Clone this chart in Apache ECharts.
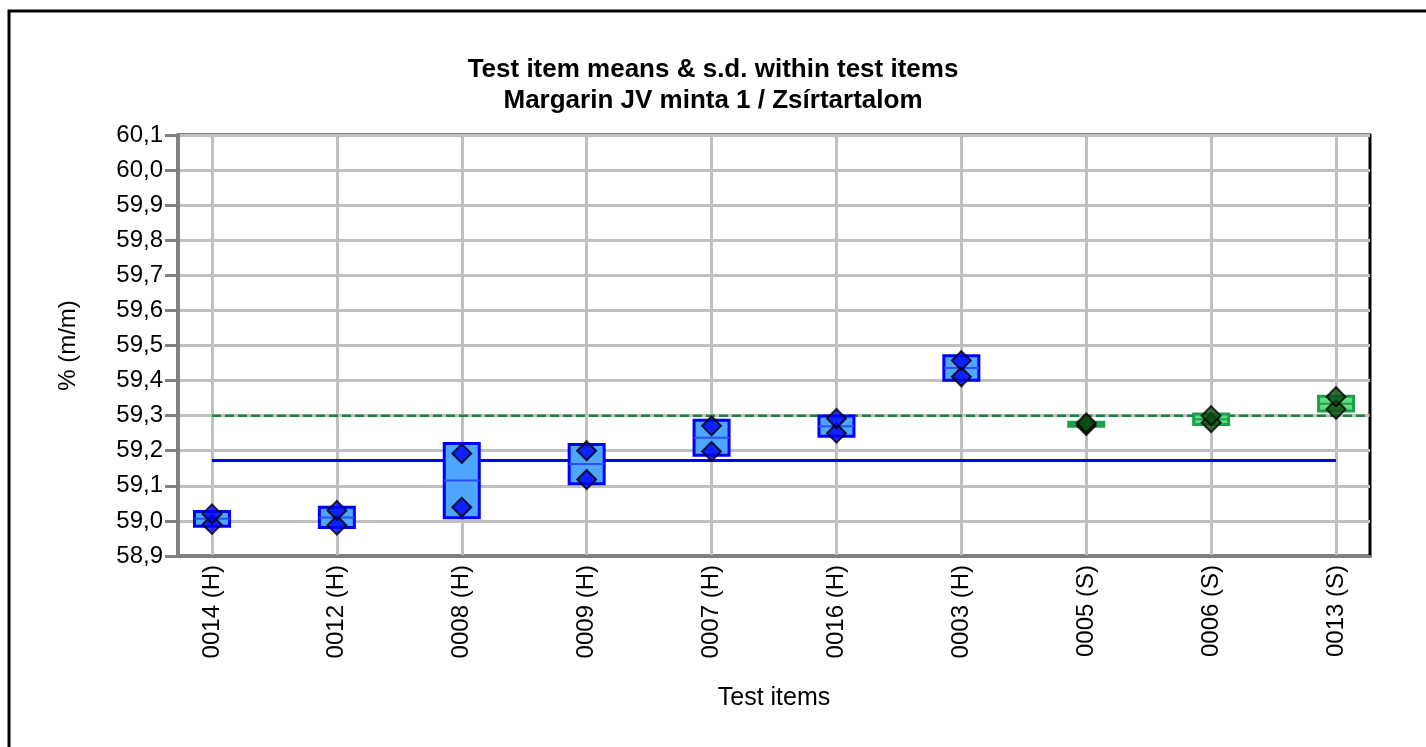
<!DOCTYPE html>
<html>
<head>
<meta charset="utf-8">
<script src="https://cdn.jsdelivr.net/npm/echarts@6/dist/echarts.min.js"></script>
<style>
html,body{margin:0;padding:0;background:#fff;}
#chart{width:1426px;height:747px;}
</style>
</head>
<body>
<div id="chart"></div>
<script>
// ---- data ----
const categories = ['0014 (H)','0012 (H)','0008 (H)','0009 (H)','0007 (H)','0016 (H)','0003 (H)','0005 (S)','0006 (S)','0013 (S)'];
const itemTypes  = ['H','H','H','H','H','H','H','S','S','S'];
const rep1  = [59.020, 59.030, 59.192, 59.200, 59.271, 59.292, 59.457, 59.279, 59.300, 59.354];
const rep2  = [58.990, 58.988, 59.039, 59.118, 59.198, 59.250, 59.411, 59.272, 59.280, 59.318];
const means = [59.006, 59.010, 59.115, 59.162, 59.237, 59.270, 59.436, 59.2755, 59.290, 59.334];
const sds   = [0.021, 0.029, 0.106, 0.056, 0.050, 0.029, 0.035, 0.006, 0.015, 0.021];
const overallMean = 59.172;   // solid blue line
const assignedValue = 59.30;  // dashed green line
const yMin = 58.9, yMax = 60.1, yStep = 0.1;

const positions = categories.map((c, i) => i + 1);
const xMin = 0.728, xMax = 10.272;

const boxData = positions.map((p, i) => [p, means[i], sds[i]]);
const rep1Data = positions.map((p, i) => [p, rep1[i]]);
const rep2Data = positions.map((p, i) => [p, rep2[i]]);

const FONT = '"Liberation Sans", Arial, sans-serif';
const colors = {
  H: { fill: '#4da6ff', stroke: '#0000ff', mid: '#2f4dff', dot: '#0000ff' },
  S: { fill: '#5fdc7e', stroke: '#1f9e4c', mid: '#1f9e4c', dot: '#0b4a12' }
};

const chart = echarts.init(document.getElementById('chart'), null, { renderer: 'canvas' });

const option = {
  backgroundColor: '#ffffff',
  animation: false,
  title: {
    text: 'Test item means & s.d. within test items\nMargarin JV minta 1 / Zsírtartalom',
    left: 'center',
    top: 54,
    padding: 0,
    textStyle: { fontFamily: FONT, fontSize: 26, fontWeight: 'bold', color: '#000', lineHeight: 31 }
  },
  graphic: [{
    type: 'rect', silent: true, z: -10,
    shape: { x: 9, y: 11, width: 1500, height: 800 },
    style: { fill: null, stroke: '#000', lineWidth: 3 }
  }],
  grid: {
    left: 178, top: 135, right: 56, bottom: 191,
    show: true, borderColor: '#000', borderWidth: 3, backgroundColor: 'transparent'
  },
  xAxis: {
    type: 'value',
    min: xMin, max: xMax,
    name: 'Test items',
    nameLocation: 'middle',
    nameGap: 130,
    nameTextStyle: { fontFamily: FONT, fontSize: 25, color: '#000' },
    axisLine: { show: true, onZero: false, lineStyle: { color: '#808080', width: 3 } },
    axisTick: { show: false, customValues: positions },
    axisLabel: {
      customValues: positions,
      rotate: 90,
      margin: 9,
      fontFamily: FONT, fontSize: 24, color: '#000',
      formatter: (v) => categories[Math.round(v) - 1] || ''
    },
    splitLine: { show: true, lineStyle: { color: '#c0c0c0', width: 3 } }
  },
  yAxis: {
    type: 'value',
    min: yMin, max: yMax, interval: yStep,
    name: '% (m/m)',
    nameLocation: 'middle',
    nameGap: 98,
    nameRotate: 90,
    nameTextStyle: { fontFamily: FONT, fontSize: 24, color: '#000' },
    axisLine: { show: true, onZero: false, lineStyle: { color: '#808080', width: 3 } },
    axisTick: { show: true, inside: false, length: 13, lineStyle: { color: '#808080', width: 3 } },
    axisLabel: {
      margin: 15,
      fontFamily: FONT, fontSize: 24, color: '#000',
      formatter: (v) => v.toFixed(1).replace('.', ',')
    },
    splitLine: { show: true, lineStyle: { color: '#c0c0c0', width: 3 } }
  },
  series: [
    {
      name: 'assigned', type: 'line', z: 3,
      data: [[positions[0], assignedValue], [xMax, assignedValue]],
      symbol: 'none', silent: true,
      lineStyle: { color: '#17853f', width: 2.5, type: [9, 4] }
    },
    {
      name: 'mean', type: 'line', z: 3,
      data: [[positions[0], overallMean], [positions[positions.length - 1], overallMean]],
      symbol: 'none', silent: true,
      lineStyle: { color: '#0000ff', width: 3 }
    },
    {
      name: 'sd', type: 'custom', z: 4,
      data: boxData,
      encode: { x: 0, y: 1 },
      renderItem: function (params, api) {
        const x = api.value(0), m = api.value(1), s = api.value(2);
        const c = colors[itemTypes[params.dataIndex]];
        const top = api.coord([x, m + s]);
        const bot = api.coord([x, m - s]);
        const mid = api.coord([x, m]);
        const w = 35;
        return {
          type: 'group',
          children: [
            { type: 'rect', shape: { x: top[0] - w / 2, y: top[1], width: w, height: Math.max(bot[1] - top[1], 1) },
              style: { fill: c.fill, stroke: c.stroke, lineWidth: 3 } },
            { type: 'line', shape: { x1: top[0] - w / 2, y1: mid[1], x2: top[0] + w / 2, y2: mid[1] },
              style: { stroke: c.mid, lineWidth: 2 } }
          ]
        };
      }
    },
    {
      name: 'rep2', type: 'scatter', z: 5,
      data: rep2Data, symbol: 'diamond', symbolSize: [19, 19],
      itemStyle: { color: (p) => colors[itemTypes[p.dataIndex]].dot, borderColor: '#000', borderWidth: 2 }
    },
    {
      name: 'rep1', type: 'scatter', z: 5,
      data: rep1Data, symbol: 'diamond', symbolSize: [19, 19],
      itemStyle: { color: (p) => colors[itemTypes[p.dataIndex]].dot, borderColor: '#000', borderWidth: 2 }
    }
  ]
};
chart.setOption(option);
</script>
</body>
</html>
